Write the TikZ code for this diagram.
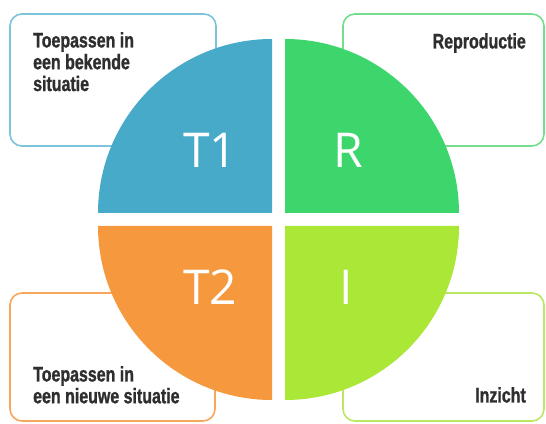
\documentclass[tikz,border=0pt]{standalone}
\usepackage{fontspec}
\setmainfont{Liberation Sans}
\newfontfamily\labelfont{Liberation Sans}[FakeStretch=0.76, FakeBold=1.2]
\newfontfamily\bigfont{Open Sans}
\definecolor{qblue}{HTML}{46AAC8}
\definecolor{qgreen}{HTML}{3DD66C}
\definecolor{qorange}{HTML}{F5983E}
\definecolor{qlime}{HTML}{ABE736}
\definecolor{bblue}{HTML}{7CC4DA}
\definecolor{bgreen}{HTML}{72DE8E}
\definecolor{borange}{HTML}{F7A75C}
\definecolor{blime}{HTML}{BBE862}
\definecolor{txt}{HTML}{2E2E2E}
\tikzset{
  infobox/.style={line width=1.6pt, rounded corners=12pt},
  boxtext/.style={inner sep=0pt, font=\labelfont\bfseries\fontsize{21}{21.8}\selectfont, text=txt},
  quadlabel/.style={inner sep=0pt, font=\bigfont\fontsize{48}{50}\selectfont, text=white}
}
\begin{document}
\begin{tikzpicture}[x=1pt,y=1pt]
\useasboundingbox (0,0) rectangle (546,423);
% boxes
\draw[infobox, bblue] (10,277) rectangle (216,409);
\draw[infobox, bgreen] (343,277) rectangle (544,409);
\draw[infobox, borange] (10,2) rectangle (215,130);
\draw[infobox, blime] (343,2) rectangle (544,130);
% quadrants
\fill[qblue] (272,210) -- (98,210) arc[start angle=180, end angle=90, radius=174pt] -- cycle;
\fill[qgreen] (285,210) -- (285,384) arc[start angle=90, end angle=0, radius=174pt] -- cycle;
\fill[qorange] (272,197) -- (98,197) arc[start angle=180, end angle=270, radius=174pt] -- cycle;
\fill[qlime] (285,197) -- (459,197) arc[start angle=0, end angle=-90, radius=174pt] -- cycle;
% quadrant labels
\node[quadlabel] (t1) at (210,273) {T1};
\node[quadlabel] (r) at (348,273) {R};
\node[quadlabel] (t2) at (210,136) {T2};
\node[quadlabel] (i) at (346,136) {I};
% box texts
\node[boxtext, anchor=north west, align=left] (t1text) at (33,391) {Toepassen in\\een bekende\\situatie};
\node[boxtext, anchor=north east, align=right] (rtext) at (526,390) {Reproductie};
\node[boxtext, anchor=north west, align=left] (t2text) at (33,57) {Toepassen in\\een nieuwe situatie};
\node[boxtext, anchor=north east, align=right] (itext) at (526,36) {Inzicht};
\end{tikzpicture}
\end{document}
